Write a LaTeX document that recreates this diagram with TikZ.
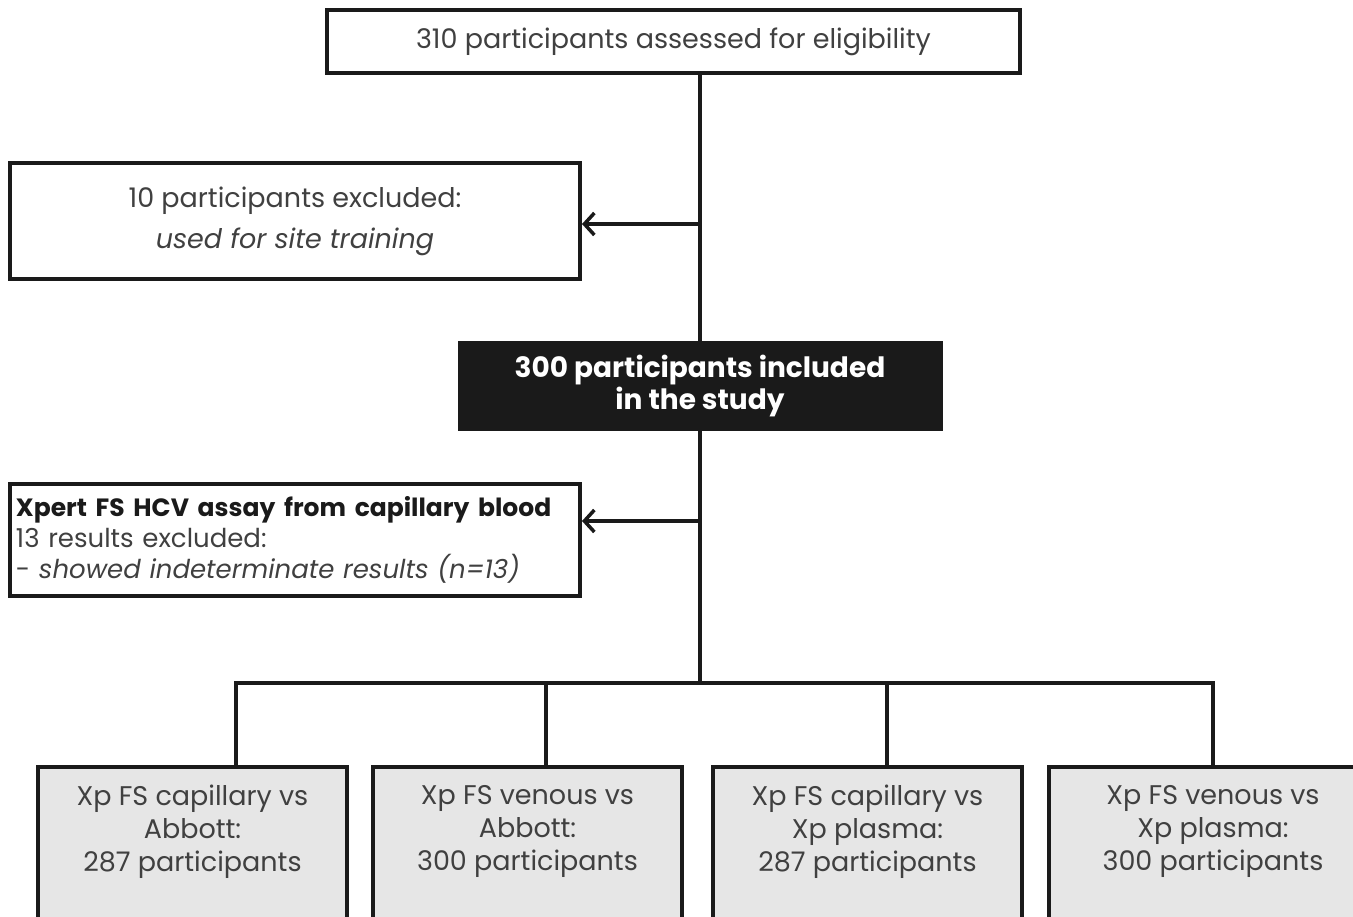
\documentclass[tikz,border=0pt]{standalone}
\usepackage{fontspec}
\setmainfont{Poppins}
\usetikzlibrary{positioning,arrows.meta}
\definecolor{txtgray}{HTML}{404040}
\definecolor{boxgray}{HTML}{E6E6E6}
\definecolor{linecol}{HTML}{1A1A1A}
\newcommand{\cmptext}[1]{\parbox[t][170pt][t]{300pt}{\centering #1}}

\begin{document}
\begin{tikzpicture}[x=1pt,y=-1pt,line width=4pt,
  >={Straight Barb[length=10pt,width=22pt,line width=3.5pt]},
  box/.style={draw=linecol,fill=white,text=txtgray,align=center,
    font=\fontsize{27}{33}\selectfont},
  cmpbox/.style={box,fill=boxgray,anchor=north,inner xsep=4pt,inner ysep=18pt}]
  \path[use as bounding box,clip] (0,0) rectangle (1353,917);
  % top and exclusion boxes
  \node[box,minimum width=693,minimum height=63] (elig) at (673.5,41.5)
    {310 participants assessed for eligibility};
  \node[box,minimum width=570,minimum height=116,font=\fontsize{27}{41}\selectfont] (excl1) at (295,221)
    {10 participants excluded:\\\textit{used for site training}};
  \node[box,fill=linecol,text=white,minimum width=481,minimum height=86,font=\fontsize{28}{32}\selectfont\bfseries] (incl) at (700,386)
    {300 participants included\\in the study};
  \node[box,minimum width=570,minimum height=112,align=left,text width=558,inner xsep=6pt,font=\fontsize{26}{31}\selectfont] (excl2) at (295,540)
    {{\fontsize{25}{31}\selectfont\bfseries\color{linecol}Xpert FS HCV assay from capillary blood}\\13 results excluded:\\- \textit{showed indeterminate results (n=13)}};
  % comparison boxes
  \node[cmpbox,minimum width=309] (cmp1) at (192.5,765) {\cmptext{Xp FS capillary vs\\Abbott:\\287 participants}};
  \node[cmpbox,minimum width=309] (cmp2) at (527.5,765) {\cmptext{Xp FS venous vs\\Abbott:\\300 participants}};
  \node[cmpbox,minimum width=309] (cmp3) at (867.5,765) {\cmptext{Xp FS capillary vs\\Xp plasma:\\287 participants}};
  \node[cmpbox,minimum width=328] (cmp4) at (1213,765) {\cmptext{Xp FS venous vs\\Xp plasma:\\300 participants}};
  % trunk and side arrows
  \coordinate (j1) at (700,224);
  \coordinate (j2) at (700,521);
  \coordinate (fork) at (700,683);
  \draw[linecol] (elig.south -| incl) -- (incl.north);
  \draw[linecol] (incl.south) -- (fork);
  \draw[linecol,->] (j1) -- (j1 -| excl1.east);
  \draw[linecol,->] (j2) -- (j2 -| excl2.east);
  % branches
  \coordinate (d1) at (236,683);
  \coordinate (d2) at (546,683);
  \coordinate (d3) at (887,683);
  \coordinate (d4) at (1213,683);
  \draw[linecol] (d1 |- cmp1.north) -- (d1) -- (d4) -- (d4 |- cmp4.north);
  \draw[linecol] (d2) -- (d2 |- cmp2.north);
  \draw[linecol] (d3) -- (d3 |- cmp3.north);
\end{tikzpicture}
\end{document}
